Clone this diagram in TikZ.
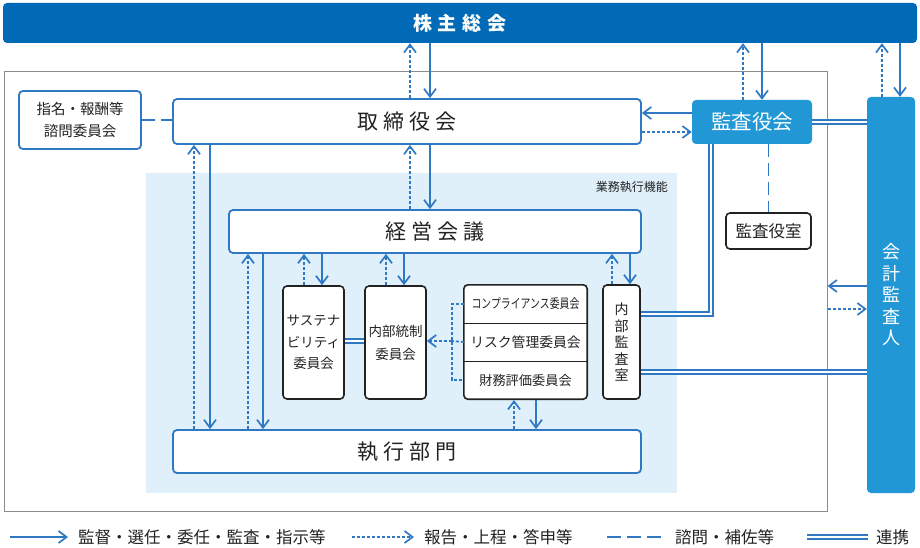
\documentclass[tikz,border=0pt]{standalone}
\usepackage{fontspec}
\setmainfont{Noto Sans CJK JP}
\usetikzlibrary{arrows.meta,fit}

\definecolor{darkblue}{HTML}{006AB6}
\definecolor{midblue}{HTML}{2297D5}
\definecolor{lineblue}{HTML}{2F78C4}
\definecolor{paleblue}{HTML}{DFF0FA}
\definecolor{framegray}{HTML}{8C8C8C}
\definecolor{ink}{HTML}{222222}

\newcommand{\txtsize}[2]{\fontsize{#1}{#2}\selectfont}
\newcommand{\gp}{\hspace{6pt}}

\tikzset{
  bluebox/.style={draw=lineblue, line width=1.8pt, fill=white, rounded corners=4pt, text=ink, inner sep=0},
  blkbox/.style={draw=ink, line width=1.6pt, fill=white, rounded corners=4pt, text=ink, inner sep=0},
  fillbox/.style={fill=midblue, rounded corners=4pt, text=white, inner sep=0},
  rowbox/.style={fill=white, minimum width=123, minimum height=38, inner sep=0, text=ink},
  sup/.style={draw=lineblue, line width=1.7pt, -{Straight Barb[length=8pt,width=12pt]}},
  rep/.style={draw=lineblue, line width=1.7pt, dash pattern=on 3pt off 2pt, -{Straight Barb[length=8pt,width=12pt]}},
  repline/.style={draw=lineblue, line width=1.7pt, dash pattern=on 3pt off 2pt},
  adv/.style={draw=lineblue, line width=1.7pt, dash pattern=on 13pt off 6pt},
  coop/.style={draw=lineblue, line width=1.6pt, double=white, double distance=2.4pt},
}

\begin{document}
\begin{tikzpicture}[x=1pt, y=-1pt]
  \useasboundingbox (0,0) rectangle (920,548);

  % column and row guides
  \foreach \x in {194,210,248,263,304,322,386,404,410,430,514,536,612,630,711,743,762,882,900}
    \coordinate (x\x) at (\x,0);
  \foreach \y in {113,120,122,132,286,309,314,341,372}
    \coordinate (y\y) at (0,\y);

  % shareholders meeting
  \node[fill=darkblue, rounded corners=4pt, minimum width=914, minimum height=40, text=white,
        font=\txtsize{19}{23}\bfseries] (kabu) at (460,23) {株\gp 主\gp 総\gp 会};

  % company frame and execution area
  \node[draw=framegray, line width=1pt, minimum width=823, minimum height=439] (corp) at (415.5,291.5) {};
  \node[fill=paleblue, minimum width=531, minimum height=320, inner sep=0] (gyomu) at (411.5,333) {};
  \node[anchor=east, text=ink, font=\txtsize{12}{14}, inner sep=0] (gyomulbl) at (668,187) {業務執行機能};

  % boxes
  \node[bluebox, minimum width=122, minimum height=58, align=center, font=\txtsize{14.5}{22}] (shimei) at (80,120) {指名・報酬等\\諮問委員会};
  \node[bluebox, minimum width=468, minimum height=45, font=\txtsize{21}{24}] (tori) at (407,121.5) {取\hspace{5pt}締\hspace{5pt}役\hspace{5pt}会};
  \node[fillbox, minimum width=120, minimum height=44, font=\txtsize{20.5}{24}] (kansa) at (752,122) {監査役会};
  \node[fillbox, minimum width=48, minimum height=396, align=center, font=\txtsize{18}{21.5}] (kaikei) at (891,295) {会\\計\\監\\査\\人};
  \node[bluebox, minimum width=412, minimum height=43, font=\txtsize{21}{24}] (keiei) at (435,231.5) {経\hspace{5pt}営\hspace{5pt}会\hspace{5pt}議};
  \node[blkbox, minimum width=61, minimum height=113, align=center, font=\txtsize{13.5}{21.5}] (susta) at (313.5,342.5) {サステナ\\ビリティ\\委員会};
  \node[blkbox, minimum width=61, minimum height=113, align=center, font=\txtsize{13.5}{23}] (tosei) at (395.5,342.5) {内部統制\\委員会};
  \node[rowbox, font=\txtsize{13}{15}\addfontfeature{FakeStretch=0.76}] (comp) at (525.5,304) {コンプライアンス委員会};
  \node[rowbox, font=\txtsize{13.8}{16}] (risk) at (525.5,342) {リスク管理委員会};
  \node[rowbox, font=\txtsize{13.2}{16}] (zaimu) at (525.5,380) {財務評価委員会};
  \node[blkbox, fill=none, fit=(comp)(zaimu)] (iinkai) {};
  \draw[ink, line width=1.4pt] (comp.south west) -- (comp.south east);
  \draw[ink, line width=1.4pt] (risk.south west) -- (risk.south east);
  \node[blkbox, minimum width=37, minimum height=114, align=center, font=\txtsize{14}{16.5}] (naikan) at (621.5,342) {内\\部\\監\\査\\室};
  \node[blkbox, minimum width=85, minimum height=36, font=\txtsize{16.5}{20}] (kshitsu) at (768.5,231) {監査役室};
  \node[bluebox, minimum width=468, minimum height=43, font=\txtsize{21}{24}] (shikko) at (407,451.5) {執\hspace{5pt}行\hspace{5pt}部\hspace{5pt}門};

  % shareholders meeting links
  \draw[rep] (tori.north -| x410) -- (kabu.south -| x410);
  \draw[sup] (kabu.south -| x430) -- (tori.north -| x430);
  \draw[rep] (kansa.north -| x743) -- (kabu.south -| x743);
  \draw[sup] (kabu.south -| x762) -- (kansa.north -| x762);
  \draw[rep] (kaikei.north -| x882) -- (kabu.south -| x882);
  \draw[sup] (kabu.south -| x900) -- (kaikei.north -| x900);

  % board and auditors
  \draw[adv] (shimei.east |- y120) -- (tori.west |- y120);
  \draw[sup] (kansa.west |- y113) -- (tori.east |- y113);
  \draw[rep] (tori.east |- y132) -- (kansa.west |- y132);
  \draw[coop] (kansa.east |- y122) -- (kaikei.west |- y122);
  \draw[adv] (kansa.south -| kshitsu.north) -- (kshitsu.north);
  \draw[coop] (kansa.south -| x711) |- (naikan.east |- y314);
  \draw[coop] (naikan.east |- y372) -- (kaikei.west |- y372);
  \draw[sup] (kaikei.west |- y286) -- (corp.east |- y286);
  \draw[rep] (corp.east |- y309) -- (kaikei.west |- y309);

  % board, management meeting and divisions
  \draw[rep] (keiei.north -| x410) -- (tori.south -| x410);
  \draw[sup] (tori.south -| x430) -- (keiei.north -| x430);
  \draw[rep] (shikko.north -| x194) -- (tori.south -| x194);
  \draw[sup] (tori.south -| x210) -- (shikko.north -| x210);
  \draw[rep] (shikko.north -| x248) -- (keiei.south -| x248);
  \draw[sup] (keiei.south -| x263) -- (shikko.north -| x263);
  \draw[rep] (susta.north -| x304) -- (keiei.south -| x304);
  \draw[sup] (keiei.south -| x322) -- (susta.north -| x322);
  \draw[rep] (tosei.north -| x386) -- (keiei.south -| x386);
  \draw[sup] (keiei.south -| x404) -- (tosei.north -| x404);
  \draw[rep] (naikan.north -| x612) -- (keiei.south -| x612);
  \draw[sup] (keiei.south -| x630) -- (naikan.north -| x630);
  \draw[rep] (shikko.north -| x514) -- (iinkai.south -| x514);
  \draw[sup] (iinkai.south -| x536) -- (shikko.north -| x536);
  \draw[coop] (susta.east |- y341) -- (tosei.west |- y341);

  % committees report to internal control
  \coordinate (br) at (452,341);
  \draw[repline] (comp.west) -| (br) |- (zaimu.west);
  \draw[repline] (risk.west) -- (br);
  \draw[rep] (br) -- (tosei.east |- br);

  % legend
  \coordinate (l1a) at (10,537);  \coordinate (l1b) at (68,537);
  \coordinate (l2a) at (352,537); \coordinate (l2b) at (414,537);
  \coordinate (l3a) at (607,537); \coordinate (l3b) at (667,537);
  \coordinate (l4a) at (807,537); \coordinate (l4b) at (868,537);
  \draw[sup] (l1a) -- (l1b);
  \draw[rep] (l2a) -- (l2b);
  \draw[adv, dash pattern=on 14pt off 6pt] (l3a) -- (l3b);
  \draw[coop] (l4a) -- (l4b);
  \node[anchor=west, inner sep=0, text=ink, font=\txtsize{16.5}{20}] (lg1) at (78,537) {監督・選任・委任・監査・指示等};
  \node[anchor=west, inner sep=0, text=ink, font=\txtsize{16.5}{20}] (lg2) at (424,537) {報告・上程・答申等};
  \node[anchor=west, inner sep=0, text=ink, font=\txtsize{16.5}{20}] (lg3) at (675,537) {諮問・補佐等};
  \node[anchor=west, inner sep=0, text=ink, font=\txtsize{16.5}{20}] (lg4) at (876,537) {連携};
\end{tikzpicture}
\end{document}
